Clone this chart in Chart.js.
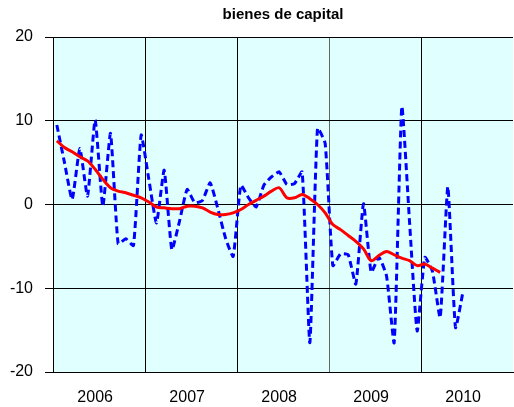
<!DOCTYPE html>
<html>
<head>
<meta charset="utf-8">
<script src="https://cdn.jsdelivr.net/npm/chart.js@4"></script>
<style>
  html, body { margin: 0; padding: 0; background: #fff; }
  #wrap { width: 514px; height: 407px; }
</style>
</head>
<body>
<div id="wrap"><canvas id="chart"></canvas></div>
<script>
// monthly values jan 2006 .. dec 2010
const years = ['2006', '2007', '2008', '2009', '2010'];
const monthly = [
  9.5, 5.0, 0.6, 6.7, 1.0, 10.1, -0.2, 8.5, -4.7, -4.1, -4.9, 8.3,
  3.0, -2.2, 4.1, -5.4, -2.0, 1.8, 0.2, 0.5, 2.6, -0.5, -4.0, -6.2,
  2.3, 0.8, -0.3, 2.3, 3.3, 3.9, 2.4, 2.5, 3.9, -16.5, 9.1, 7.3,
  -7.3, -5.9, -6.0, -9.5, 0.1, -8.1, -6.3, -8.5, -16.5, 11.7, -2.0, -15.1,
  -6.3, -8.0, -13.5, 2.1, -14.7, -10.3, null, null, null, null, null, null
];
const trend = [
  7.6, 6.8, 6.3, 5.7, 5.2, 4.2, 3.0, 2.0, 1.6, 1.4, 1.1, 0.8,
  0.3, -0.3, -0.4, -0.5, -0.5, -0.2, -0.2, -0.4, -0.9, -1.2, -1.2, -1.0,
  -0.6, 0.0, 0.5, 1.0, 1.6, 2.0, 0.8, 0.8, 1.2, 0.7, 0.0, -1.0,
  -2.4, -3.0, -3.7, -4.4, -5.3, -6.7, -6.1, -5.6, -6.0, -6.4, -6.7, -7.3,
  -7.1, -7.6, -8.1, null, null, null, null, null, null, null, null, null
];
const yTicks = [-20, -10, 0, 10, 20];

// one category per month, year name sits on june
const labels = [];
years.forEach(function(y) {
  for (let m = 0; m < 12; m++) labels.push(m === 5 ? y : '');
});

const font = '"Liberation Sans", Arial, sans-serif';

const bgPlugin = {
  id: 'plotBg',
  beforeDraw(chart) {
    const a = chart.chartArea, ctx = chart.ctx;
    ctx.save();
    ctx.fillStyle = '#e0ffff';
    ctx.fillRect(a.left, a.top, a.right - a.left, a.bottom - a.top);
    ctx.restore();
  },
  afterDraw(chart) {
    // title centred over the plot area
    const a = chart.chartArea, ctx = chart.ctx;
    ctx.save();
    ctx.font = 'bold 15px ' + font;
    ctx.fillStyle = '#000';
    ctx.textAlign = 'center';
    ctx.textBaseline = 'middle';
    ctx.fillText('bienes de capital', (a.left + a.right) / 2, 15);
    ctx.restore();
  }
};

const data = {
  labels: labels,
  datasets: [
    {
      label: 'trend',
      data: trend,
      borderColor: '#ff0000',
      borderWidth: 3,
      pointRadius: 0,
      tension: 0.3,
      spanGaps: false
    },
    {
      label: 'monthly',
      data: monthly,
      borderColor: '#0000ff',
      borderWidth: 3,
      borderDash: [7, 4],
      pointRadius: 0,
      tension: 0.15,
      spanGaps: false
    }
  ]
};

const config = {
  type: 'line',
  data: data,
  options: {
    responsive: true,
    maintainAspectRatio: false,
    animation: false,
    layout: { padding: { top: 37, right: 1, left: 0, bottom: 0 } },
    plugins: {
      legend: { display: false },
      title: { display: false },
      tooltip: { enabled: false }
    },
    scales: {
      x: {
        type: 'category',
        offset: true,
        border: { display: true, color: '#000', width: 1 },
        grid: {
          offset: true,
          drawTicks: true,
          tickLength: 16,
          tickColor: 'rgba(0,0,0,0)',
          color: function(c) {
            if (c.index % 12 !== 0) return 'rgba(0,0,0,0)';
            return c.index === 36 ? '#666' : '#000';
          },
          lineWidth: 1
        },
        ticks: {
          autoSkip: false,
          maxRotation: 0,
          padding: 0,
          color: '#000',
          font: { family: font, size: 16 }
        },
        afterFit(scale) { scale.height = 35; }
      },
      y: {
        min: -20,
        max: 20,
        afterBuildTicks(scale) {
          scale.ticks = yTicks.map(function(v) { return { value: v }; });
        },
        border: { display: true, color: '#000', width: 1 },
        grid: {
          color: '#000',
          lineWidth: 1,
          borderDash: [12, 3],
          tickLength: 8,
          tickColor: '#000',
          tickBorderDash: []
        },
        ticks: {
          padding: 12,
          color: '#000',
          font: { family: font, size: 16 }
        },
        afterFit(scale) { scale.width = 53; }
      }
    }
  },
  plugins: [bgPlugin]
};

new Chart(document.getElementById('chart'), config);
</script>
</body>
</html>
